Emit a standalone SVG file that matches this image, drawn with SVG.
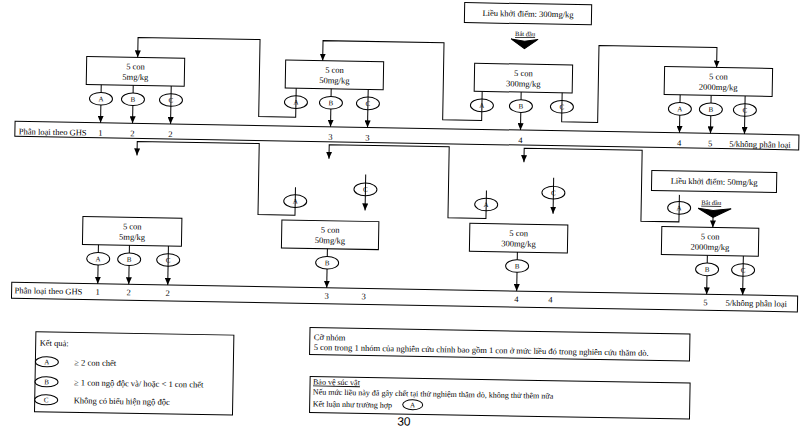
<svg xmlns="http://www.w3.org/2000/svg" width="805" height="430" viewBox="0 0 805 430">
<defs>
<marker id="ah" viewBox="0 0 10 10" refX="10" refY="5" markerWidth="7" markerHeight="6" markerUnits="userSpaceOnUse" orient="auto" preserveAspectRatio="none"><path d="M0,0 L10,5 L0,10 z" fill="#000"/></marker>
</defs>
<style>
.bx{fill:#fff;stroke:#000;stroke-width:1}
.ln{fill:none;stroke:#000;stroke-width:1}
.ar{marker-end:url(#ah)}
.t{font-family:"Liberation Serif","Times New Roman",serif;font-size:8.5px;fill:#000}
.m{text-anchor:middle}
.e{fill:#fff;stroke:#000;stroke-width:1}
.ex{fill:none;stroke:#000;stroke-width:1}
.lt{font-family:"Liberation Serif","Times New Roman",serif;font-size:7px;text-anchor:middle;fill:#000}
.u{text-decoration:underline}
.s{font-size:6.5px}
.sm{font-size:8px}
.tri{fill:#000;stroke:#000;stroke-width:1}
</style>
<rect width="805" height="430" fill="#fff"/>
<g transform="rotate(1 400 215)">

<!-- ===== Section 1 ===== -->
<g id="start-300">
<rect class="bx" x="461" y="1.5" width="127" height="20"/>
<text class="t m" x="524.5" y="14.5">Liều khởi điểm: 300mg/kg</text>
<text class="t m u s" x="522" y="34">Bắt đầu</text>
<polygon class="tri" points="508,37 521.5,39 535,37 521.5,46.5"/>
</g>
<g id="band-1">
<rect class="bx" x="13.5" y="128" width="784" height="15"/>
<text class="t" x="17.5" y="141">Phân loại theo GHS</text>
<text class="t m" x="99" y="141">1</text>
<text class="t m" x="131" y="141">2</text>
<text class="t m" x="169" y="141">2</text>
<text class="t m" x="329" y="141">3</text>
<text class="t m" x="366" y="141">3</text>
<text class="t m" x="519" y="141">4</text>
<text class="t m" x="678" y="141">4</text>
<text class="t m" x="709" y="141">5</text>
<text class="t" x="728" y="141">5/không phân loại</text>
</g>
<g id="box-5-top">
<rect class="bx" x="84" y="62" width="98" height="28"/>
<text class="t m" x="133" y="74">5 con</text>
<text class="t m" x="133" y="84.5">5mg/kg</text>
</g>
<g id="box-50-top">
<rect class="bx" x="283" y="62" width="98" height="28"/>
<text class="t m" x="332" y="74">5 con</text>
<text class="t m" x="332" y="84.5">50mg/kg</text>
</g>
<g id="box-300-top">
<rect class="bx" x="472" y="62" width="98" height="28"/>
<text class="t m" x="521" y="74">5 con</text>
<text class="t m" x="521" y="84.5">300mg/kg</text>
</g>
<g id="box-2000-top">
<rect class="bx" x="662" y="62" width="108" height="28"/>
<text class="t m" x="716" y="74">5 con</text>
<text class="t m" x="716" y="84.5">2000mg/kg</text>
</g>

<!-- ===== Section 2 ===== -->
<g id="start-50">
<rect class="bx" x="651" y="166" width="125" height="20"/>
<text class="t m" x="713.5" y="179">Liều khởi điểm: 50mg/kg</text>
<text class="t m u s" x="711" y="199.5">Bắt đầu</text>
<polygon class="tri" points="698,203 713,205 731,203 713,212"/>
</g>
<g id="band-2">
<rect class="bx" x="13" y="289" width="786" height="16"/>
<text class="t" x="16" y="300">Phân loại theo GHS</text>
<text class="t m" x="99" y="300">1</text>
<text class="t m" x="130" y="300">2</text>
<text class="t m" x="169" y="300">2</text>
<text class="t m" x="328" y="300">3</text>
<text class="t m" x="365" y="300">3</text>
<text class="t m" x="518" y="300">4</text>
<text class="t m" x="552" y="300">4</text>
<text class="t m" x="707" y="300">5</text>
<text class="t" x="727" y="300">5/không phân loại</text>
</g>
<g id="box-5-bottom">
<rect class="bx" x="83" y="222" width="99" height="28"/>
<text class="t m" x="132.5" y="234">5 con</text>
<text class="t m" x="132.5" y="244.5">5mg/kg</text>
</g>
<g id="box-50-bottom">
<rect class="bx" x="282" y="222" width="97" height="28"/>
<text class="t m" x="330.5" y="234">5 con</text>
<text class="t m" x="330.5" y="244.5">50mg/kg</text>
</g>
<g id="box-300-bottom">
<rect class="bx" x="470" y="222" width="98" height="28"/>
<text class="t m" x="519" y="234">5 con</text>
<text class="t m" x="519" y="244.5">300mg/kg</text>
</g>
<g id="box-2000-bottom">
<rect class="bx" x="662" y="222" width="97" height="28"/>
<text class="t m" x="710.5" y="234">5 con</text>
<text class="t m" x="710.5" y="244.5">2000mg/kg</text>
</g>

<!-- ===== Connectors ===== -->
<g id="connectors" class="ln">
<path class="ar" d="M99,90 V128"/>
<path class="ar" d="M131,90 V128"/>
<path class="ar" d="M169,90 V128"/>
<path class="ar" d="M329,90 V128"/>
<path class="ar" d="M366,90 V128"/>
<path class="ar" d="M294,90 V119 H257 V42 H135 V62"/>
<path class="ar" d="M519,90 V128"/>
<path class="ar" d="M480,90 V119 H441 V42 H320 V62"/>
<path class="ar" d="M560,90 V119 H596 V42 H714 V62"/>
<path class="ar" d="M678,90 V128"/>
<path class="ar" d="M709,90 V128"/>
<path class="ar" d="M743,90 V128"/>

<path class="ar" d="M99,250 V289"/>
<path class="ar" d="M130,250 V289"/>
<path class="ar" d="M169,250 V289"/>
<path class="ar" d="M328,250 V289"/>
<path class="ar" d="M518,250 V289"/>
<path class="ar" d="M708,250 V289"/>
<path class="ar" d="M744,250 V289"/>
<path class="ar" d="M295,189 V217 H258 V146 H136 V160"/>
<path class="ar" d="M486,189 V217 H448 V146 H328 V160"/>
<path class="ar" d="M679,190 V217 H641 V146 H523 V160"/>
<path class="ar" d="M365,175 V211"/>
<path class="ar" d="M553,175 V211"/>
<path class="ar" d="M713,212 V222"/>
</g>

<!-- ===== Outcome labels on connectors ===== -->
<g id="outcomes">
<ellipse class="e" cx="99" cy="104" rx="11.5" ry="6.3"/><text class="lt" x="99" y="106.5">A</text>
<ellipse class="e" cx="131" cy="104" rx="11.5" ry="6.3"/><text class="lt" x="131" y="106.5">B</text>
<ellipse class="ex" cx="169" cy="104" rx="11.5" ry="6.3"/><text class="lt" x="169" y="106.5">C</text>
<ellipse class="ex" cx="294" cy="104" rx="11.5" ry="6.3"/><text class="lt" x="294" y="106.5">A</text>
<ellipse class="e" cx="329" cy="104" rx="11.5" ry="6.3"/><text class="lt" x="329" y="106.5">B</text>
<ellipse class="ex" cx="366" cy="104" rx="11.5" ry="6.3"/><text class="lt" x="366" y="106.5">C</text>
<ellipse class="ex" cx="480" cy="104" rx="11.5" ry="6.3"/><text class="lt" x="480" y="106.5">A</text>
<ellipse class="e" cx="519" cy="104" rx="11.5" ry="6.3"/><text class="lt" x="519" y="106.5">B</text>
<ellipse class="ex" cx="560" cy="104" rx="11.5" ry="6.3"/><text class="lt" x="560" y="106.5">C</text>
<ellipse class="e" cx="678" cy="104" rx="11.5" ry="6.3"/><text class="lt" x="678" y="106.5">A</text>
<ellipse class="e" cx="709" cy="104" rx="11.5" ry="6.3"/><text class="lt" x="709" y="106.5">B</text>
<ellipse class="ex" cx="743" cy="104" rx="11.5" ry="6.3"/><text class="lt" x="743" y="106.5">C</text>

<ellipse class="e" cx="99" cy="264" rx="11.5" ry="6.3"/><text class="lt" x="99" y="266.5">A</text>
<ellipse class="e" cx="130" cy="264" rx="11.5" ry="6.3"/><text class="lt" x="130" y="266.5">B</text>
<ellipse class="ex" cx="169" cy="264" rx="11.5" ry="6.3"/><text class="lt" x="169" y="266.5">C</text>
<ellipse class="e" cx="328" cy="264" rx="11.5" ry="6.3"/><text class="lt" x="328" y="266.5">B</text>
<ellipse class="e" cx="518" cy="264" rx="11.5" ry="6.3"/><text class="lt" x="518" y="266.5">B</text>
<ellipse class="e" cx="708" cy="264" rx="11.5" ry="6.3"/><text class="lt" x="708" y="266.5">B</text>
<ellipse class="ex" cx="744" cy="264" rx="11.5" ry="6.3"/><text class="lt" x="744" y="266.5">C</text>
<ellipse class="ex" cx="295" cy="203" rx="11.5" ry="6.3"/><text class="lt" x="295" y="205.5">A</text>
<ellipse class="ex" cx="486" cy="203" rx="11.5" ry="6.3"/><text class="lt" x="486" y="205.5">A</text>
<ellipse class="ex" cx="679" cy="203" rx="11.5" ry="6.3"/><text class="lt" x="679" y="205.5">A</text>
<ellipse class="ex" cx="365" cy="190" rx="11.5" ry="6.3"/><text class="lt" x="365" y="192.5">C</text>
<ellipse class="ex" cx="553" cy="190" rx="11.5" ry="6.3"/><text class="lt" x="553" y="192.5">C</text>
</g>

<!-- ===== Legends ===== -->
<g id="legend-results">
<rect class="bx" x="38" y="338" width="198" height="80"/>
<text class="t" x="42" y="352">Kết quả:</text>
<ellipse class="e" cx="49.5" cy="368" rx="11.5" ry="5"/><text class="lt" x="49.5" y="370.5">A</text>
<text class="t" x="77" y="371">≥ 2 con chết</text>
<ellipse class="e" cx="49.5" cy="388" rx="11.5" ry="5"/><text class="lt" x="49.5" y="390.5">B</text>
<text class="t" x="77" y="391">≥ 1 con ngộ độc và/ hoặc &lt; 1 con chết</text>
<ellipse class="e" cx="49.5" cy="406" rx="11.5" ry="5"/><text class="lt" x="49.5" y="408.5">C</text>
<text class="t" x="77" y="409">Không có biểu hiện ngộ độc</text>
</g>
<g id="legend-group-size">
<rect class="bx" x="312" y="329" width="380" height="27"/>
<text class="t" x="316" y="341.5">Cỡ nhóm</text>
<text class="t" x="316" y="351.5">5 con trong 1 nhóm của nghiên cứu chính bao gồm 1 con ở mức liều đó trong nghiên cứu thăm dò.</text>
</g>
<g id="legend-animal-welfare">
<rect class="bx" x="313" y="378" width="380" height="36"/>
<text class="t sm u" x="316" y="386">Bảo vệ súc vật</text>
<text class="t sm" x="316" y="396">Nếu mức liều này đã gây chết tại thử nghiệm thăm dò, không thử thêm nữa</text>
<text class="t sm" x="316" y="408">Kết luận như trường hợp</text>
<ellipse class="e" cx="416" cy="404.5" rx="10" ry="5"/><text class="lt" x="416" y="407">A</text>
</g>
<text x="407.5" y="425.5" font-family="'Liberation Sans',Arial,sans-serif" font-size="12" text-anchor="middle">30</text>
</g>
</svg>
